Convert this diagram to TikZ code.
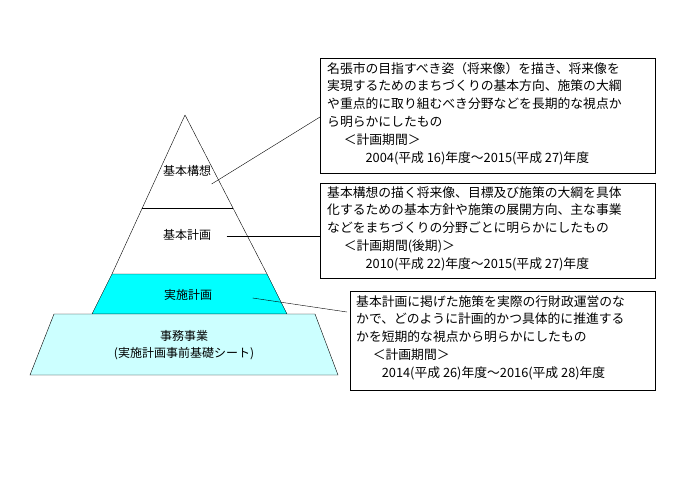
\documentclass[tikz,border=0pt]{standalone}
\usepackage{fontspec}
\newfontfamily\cjk{Noto Sans CJK JP}
\usetikzlibrary{positioning}
\definecolor{band}{RGB}{0,255,255}
\definecolor{base}{RGB}{204,255,255}
\tikzset{
  txt/.style={anchor=north west, align=left, font=\cjk\fontsize{12.8}{17.8}\selectfont, inner sep=0pt},
  lvl/.style={font=\cjk\fontsize{12}{17}\selectfont, align=center}
}
\begin{document}
\begin{tikzpicture}[x=1pt, y=-1pt]
    \useasboundingbox (0,0) rectangle (700,500);

    % pyramid
    \draw[fill=band] (112,274) -- (267,274) -- (287,314) -- (92,314) -- cycle;
    \draw (185,115) -- (112,274);
    \draw (185,115) -- (267,274);
    \draw (142,208) -- (233,208);
    \draw[fill=base] (54,314) -- (315,314) -- (338,375) -- (30,375) -- cycle;

    \node[lvl] (kousou) at (187,171) {基本構想};
    \node[lvl] (keikaku) at (187,235) {基本計画};
    \node[lvl] (jisshi) at (188,295) {実施計画};
    \node[lvl] (jimu) at (184,345) {事務事業\\(実施計画事前基礎シート)};

    % boxes
    \draw (320,58) rectangle (655,173);
    \coordinate (b1) at (320,117);
    \node[txt] (t1) at (327,62) {名張市の目指すべき姿（将来像）を描き、将来像を\\
      実現するためのまちづくりの基本方向、施策の大綱\\
      や重点的に取り組むべき分野などを長期的な視点か\\
      ら明らかにしたもの\\
      \hspace{1.3em}＜計画期間＞\\
      \hspace{3em}2004(平成 16)年度～2015(平成 27)年度};

    \draw (320,183) rectangle (655,278);
    \coordinate (b2) at (320,236);
    \node[txt] (t2) at (327,186) {基本構想の描く将来像、目標及び施策の大綱を具体\\
      化するための基本方針や施策の展開方向、主な事業\\
      などをまちづくりの分野ごとに明らかにしたもの\\
      \hspace{1.3em}＜計画期間(後期)＞\\
      \hspace{3em}2010(平成 22)年度～2015(平成 27)年度};

    \draw (350,291) rectangle (655,390);
    \coordinate (b3) at (347,312);
    \node[txt] (t3) at (356,295) {基本計画に掲げた施策を実際の行財政運営のな\\
      かで、どのように計画的かつ具体的に推進する\\
      かを短期的な視点から明らかにしたもの\\
      \hspace{1.3em}＜計画期間＞\\
      \hspace{2em}2014(平成 26)年度～2016(平成 28)年度};

    % connectors
    \draw (kousou.south east) ++(-3,4) coordinate (k1) -- (b1);
    \draw (keikaku.east) ++(12,1) coordinate (k2) -- (b2);
    \draw (jisshi.east) ++(37,3) coordinate (k3) -- (b3);
\end{tikzpicture}
\end{document}
